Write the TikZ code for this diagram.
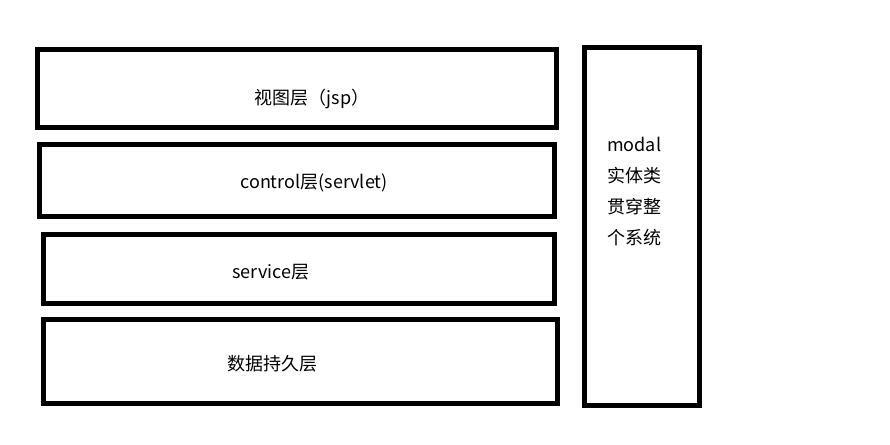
\documentclass[tikz,border=0pt]{standalone}
\usepackage{fontspec}
\setmainfont{Noto Sans CJK SC}
\usepackage{tikz}
\tikzset{
    layer/.style={line width=5bp},
    tag/.style={inner sep=0pt, font=\fontsize{18bp}{31bp}\selectfont}
}

\begin{document}
\begin{tikzpicture}[x=1bp,y=-1bp]
    \useasboundingbox (0,0) rectangle (890,445);
    \draw[layer] (37.5,49.5) rectangle (556.5,128);
    \draw[layer] (39.5,144.5) rectangle (554.5,217);
    \draw[layer] (43.5,234.5) rectangle (554.5,303.5);
    \draw[layer] (43.5,319.5) rectangle (557.5,403.5);
    \draw[layer] (584.5,47.5) rectangle (699.5,405.5);
    \node[tag] (view) at (312,99) {视图层（jsp）};
    \node[tag] (control) at (314,183) {control层(servlet)};
    \node[tag] (service) at (271,272) {service层};
    \node[tag] (dao) at (272,364) {数据持久层};
    \node[tag, align=left, anchor=west] (modal) at (607,191.5) {modal\\实体类\\贯穿整\\个系统};
\end{tikzpicture}
\end{document}
